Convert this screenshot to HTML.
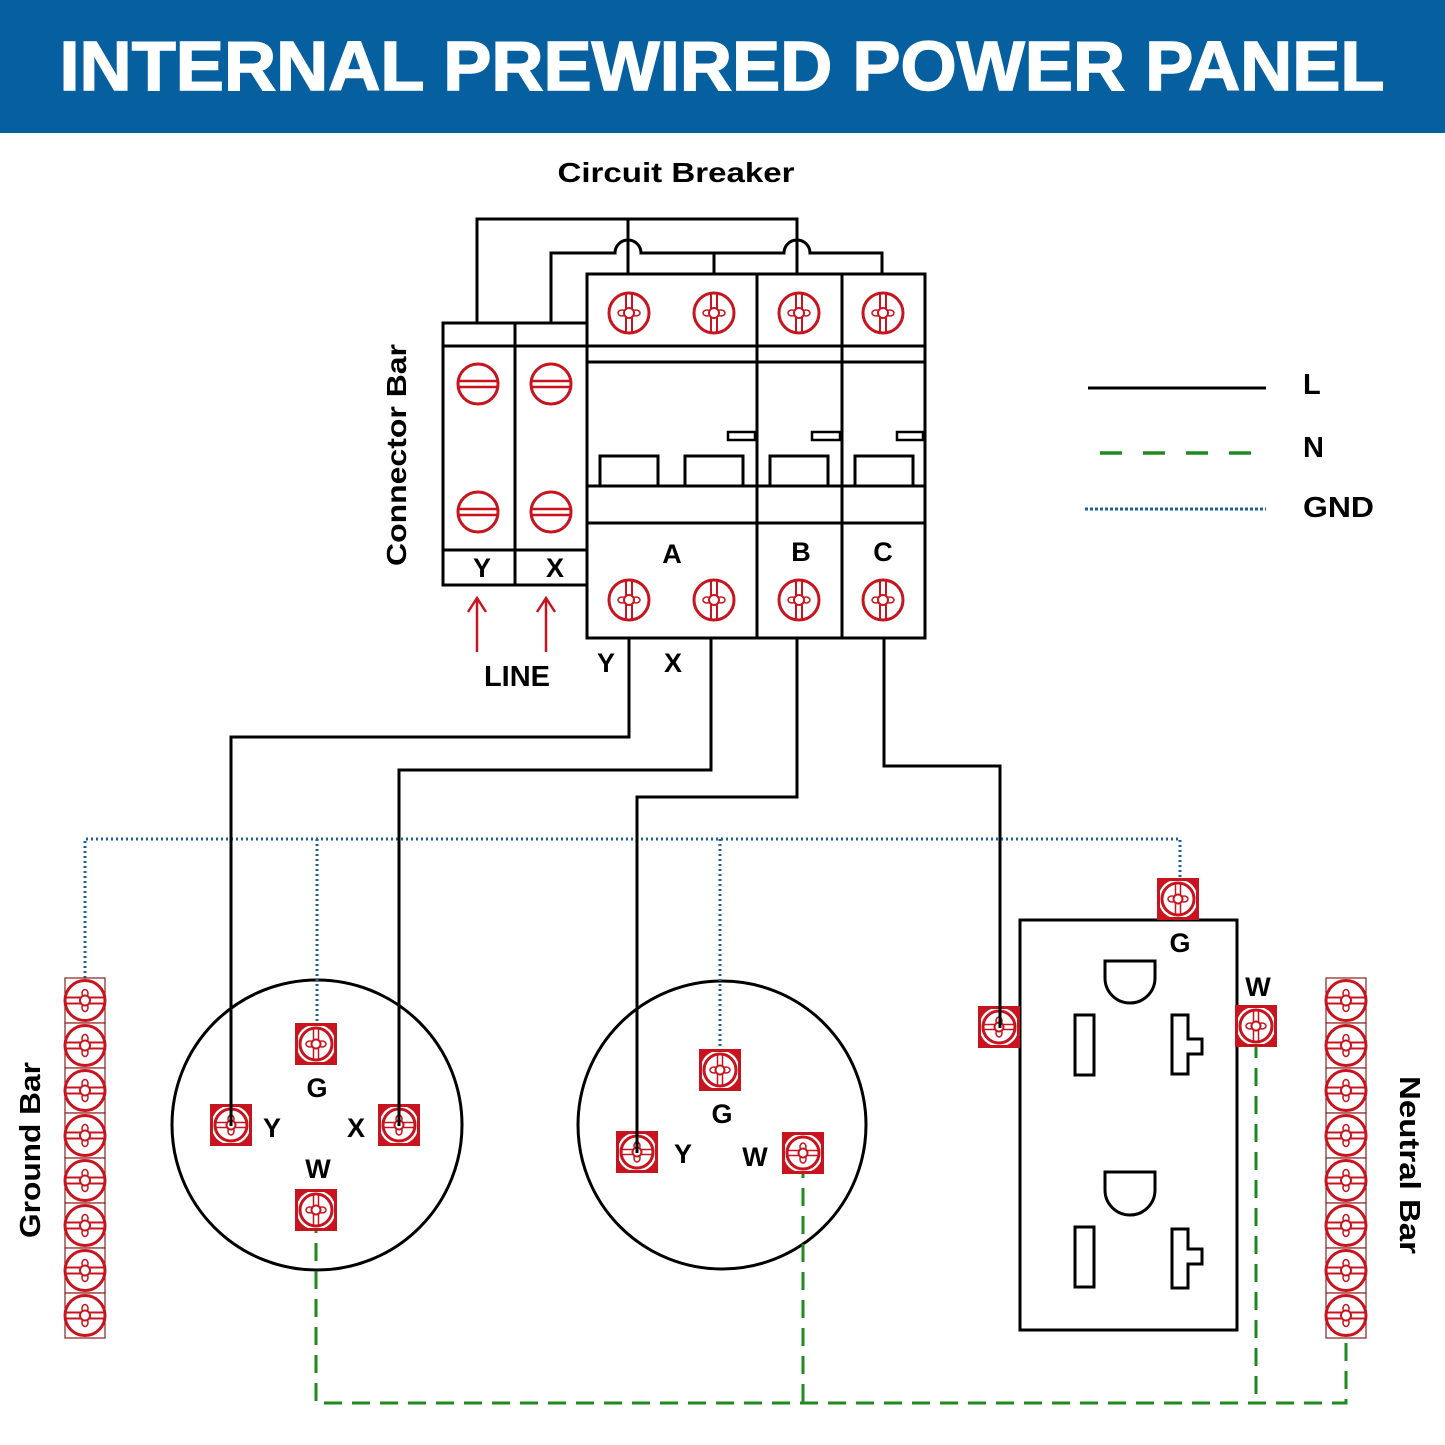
<!DOCTYPE html>
<html><head><meta charset="utf-8"><style>
html,body{margin:0;padding:0;background:#fff;}
svg{display:block;}
text{font-family:"Liberation Sans",Arial,sans-serif;font-weight:bold;}
</style></head><body>
<svg width="1445" height="1445" viewBox="0 0 1445 1445" xmlns="http://www.w3.org/2000/svg">
<defs>
 <g id="s">
  <circle r="20" fill="#fff" stroke="#c8141e" stroke-width="3"/>
  <line x1="-3" y1="-19" x2="-3" y2="19" stroke="#c8141e" stroke-width="2"/>
  <line x1="3" y1="-19" x2="3" y2="19" stroke="#c8141e" stroke-width="2"/>
  <ellipse cx="-7" cy="0" rx="4" ry="3" fill="#fff" stroke="#c8141e" stroke-width="1.5"/>
  <ellipse cx="7" cy="0" rx="4" ry="3" fill="#fff" stroke="#c8141e" stroke-width="1.5"/>
  <circle r="5" fill="#fff" stroke="#c8141e" stroke-width="2"/>
 </g>
 <g id="f">
  <circle r="20" fill="#fff" stroke="#c8141e" stroke-width="3"/>
  <line x1="-19" y1="-3" x2="19" y2="-3" stroke="#c8141e" stroke-width="2.5"/>
  <line x1="-19" y1="3" x2="19" y2="3" stroke="#c8141e" stroke-width="2.5"/>
 </g>
 <g id="t">
  <rect x="-21" y="-21" width="42" height="42" fill="#c8141e"/>
  <rect x="-18" y="-18" width="36" height="36" fill="#fff"/>
  <path d="M-18 -18h10a18 18 0 0 0 -10 10z M18 -18h-10a18 18 0 0 1 10 10z M-18 18h10a18 18 0 0 1 -10 -10z M18 18h-10a18 18 0 0 0 10 -10z" fill="#c8141e"/>
  <circle r="16" fill="#fff" stroke="#c8141e" stroke-width="3"/>
  <line x1="-2.5" y1="-16" x2="-2.5" y2="16" stroke="#c8141e" stroke-width="1.5"/>
  <line x1="2.5" y1="-16" x2="2.5" y2="16" stroke="#c8141e" stroke-width="1.5"/>
  <ellipse cx="-6" cy="0" rx="4" ry="3" fill="#fff" stroke="#c8141e" stroke-width="1.5"/>
  <ellipse cx="6" cy="0" rx="4" ry="3" fill="#fff" stroke="#c8141e" stroke-width="1.5"/>
  <circle r="4.5" fill="#fff" stroke="#c8141e" stroke-width="2"/>
 </g>
 <g id="th"><use href="#t" transform="rotate(90)"/></g>
 <g id="b">
  <rect x="-20" y="-22.5" width="40" height="45" fill="#fff" stroke="#8a2020" stroke-width="1.2"/>
  <use href="#s" transform="rotate(90)"/>
 </g>
</defs>

<rect x="0" y="0" width="1445" height="133" fill="#065f9e"/>
<text x="722" y="90" font-size="70" fill="#fff" text-anchor="middle" textLength="1325" lengthAdjust="spacingAndGlyphs" stroke="#fff" stroke-width="1.5">INTERNAL PREWIRED POWER PANEL</text>

<text x="676" y="182" font-size="28" text-anchor="middle" textLength="237" lengthAdjust="spacingAndGlyphs">Circuit Breaker</text>

<g fill="none" stroke="#000" stroke-width="3">
 <path d="M477 323V219H797V274"/>
 <path d="M628 219V274"/>
 <path d="M551 323V253H615a13 13 0 0 1 26 0H784a13 13 0 0 1 26 0H882V274"/>
 <path d="M714 253V274"/>
</g>

<g fill="none" stroke="#000" stroke-width="3">
 <rect x="443" y="323" width="144" height="262"/>
 <line x1="515" y1="323" x2="515" y2="585"/>
 <line x1="443" y1="346" x2="587" y2="346"/>
 <line x1="443" y1="550" x2="587" y2="550"/>
</g>
<use href="#f" x="478" y="384"/><use href="#f" x="551" y="384"/>
<use href="#f" x="478" y="512"/><use href="#f" x="551" y="512"/>
<text x="482" y="577" font-size="27" text-anchor="middle">Y</text>
<text x="555" y="577" font-size="27" text-anchor="middle">X</text>

<g fill="none" stroke="#000" stroke-width="3">
 <rect x="587" y="274" width="338" height="364"/>
 <line x1="757" y1="274" x2="757" y2="638"/>
 <line x1="842" y1="274" x2="842" y2="638"/>
 <line x1="587" y1="346" x2="925" y2="346"/>
 <line x1="587" y1="362" x2="925" y2="362"/>
 <line x1="587" y1="486" x2="925" y2="486"/>
 <line x1="587" y1="523" x2="925" y2="523"/>
 <path d="M600 486V456H658V486M685 486V456H743V486M770 486V456H828V486M855 486V456H913V486"/>
 <rect x="728" y="432" width="27" height="8" stroke-width="2.5"/>
 <rect x="812" y="432" width="28" height="8" stroke-width="2.5"/>
 <rect x="897" y="432" width="26" height="8" stroke-width="2.5"/>
</g>
<use href="#s" x="629" y="313"/><use href="#s" x="714" y="313"/><use href="#s" x="799" y="313"/><use href="#s" x="883" y="313"/>
<use href="#s" x="629" y="600"/><use href="#s" x="714" y="600"/><use href="#s" x="799" y="600"/><use href="#s" x="883" y="600"/>
<text x="672" y="563" font-size="27" text-anchor="middle">A</text>
<text x="801" y="561" font-size="27" text-anchor="middle">B</text>
<text x="883" y="561" font-size="27" text-anchor="middle">C</text>

<text transform="translate(406,455) rotate(-90)" font-size="28" text-anchor="middle" textLength="222" lengthAdjust="spacingAndGlyphs">Connector Bar</text>

<g stroke="#c8141e" stroke-width="2.5" fill="none">
 <path d="M477 652V598M468 612L477 598L486 612"/>
 <path d="M546 652V598M537 612L546 598L555 612"/>
</g>
<text x="517" y="686" font-size="29" text-anchor="middle">LINE</text>
<text x="606" y="672" font-size="27" text-anchor="middle">Y</text>
<text x="673" y="672" font-size="27" text-anchor="middle">X</text>

<circle cx="317" cy="1125" r="145" fill="none" stroke="#000" stroke-width="3"/>
<circle cx="722" cy="1125" r="144" fill="none" stroke="#000" stroke-width="3"/>
<rect x="1020" y="920" width="217" height="410" fill="none" stroke="#000" stroke-width="3"/>
<g fill="none" stroke="#000" stroke-width="3">
 <path d="M1105 961H1155V978a25 25 0 0 1 -50 0Z"/>
 <rect x="1075" y="1015" width="19" height="60"/>
 <path d="M1172 1015H1188V1039H1202V1054H1188V1074H1172Z"/>
 <path d="M1105 1172H1155V1190a25 25 0 0 1 -50 0Z"/>
 <rect x="1075" y="1227" width="19" height="60"/>
 <path d="M1172 1229H1188V1249H1202V1264H1188V1288H1172Z"/>
</g>

<g stroke="#1d5f9a" stroke-width="3" stroke-dasharray="2 3" fill="none">
 <path d="M85 978V839H1180V880"/>
 <path d="M317 839V1023"/>
 <path d="M720 839V1048"/>
</g>

<g fill="none" stroke="#000" stroke-width="3">
 <path d="M629 638V737H231V1125"/>
 <path d="M711 638V770H399V1125"/>
 <path d="M797 638V797H637V1152"/>
 <path d="M884 638V766H1000V1027"/>
</g>

<g fill="none" stroke="#1f8a1f" stroke-width="3" stroke-dasharray="18 10">
 <path d="M316 1215V1403H1346V1337"/>
 <path d="M803 1160V1403"/>
 <path d="M1256 1040V1403"/>
</g>

<use href="#t" x="316" y="1044"/><use href="#th" x="231" y="1125"/><use href="#th" x="399" y="1125"/><use href="#t" x="316" y="1210"/>
<use href="#t" x="720" y="1070"/><use href="#th" x="637" y="1152"/><use href="#th" x="803" y="1153"/>
<use href="#t" x="1178" y="899"/><use href="#th" x="999" y="1027"/><use href="#t" x="1256" y="1026"/>
<line x1="231" y1="1100" x2="231" y2="1126" stroke="#000" stroke-width="3"/>
<line x1="399" y1="1100" x2="399" y2="1126" stroke="#000" stroke-width="3"/>
<line x1="637" y1="1130" x2="637" y2="1153" stroke="#000" stroke-width="3"/>
<line x1="1000" y1="1005" x2="1000" y2="1028" stroke="#000" stroke-width="3"/>

<g font-size="27" text-anchor="middle">
 <text x="317" y="1097">G</text><text x="272" y="1137">Y</text><text x="356" y="1137">X</text><text x="318" y="1178">W</text>
 <text x="722" y="1123">G</text><text x="683" y="1163">Y</text><text x="755" y="1166">W</text>
 <text x="1180" y="952">G</text><text x="1258" y="996">W</text>
</g>

<g>
 <use href="#b" x="85" y="1000.5"/><use href="#b" x="85" y="1045.5"/><use href="#b" x="85" y="1090.5"/><use href="#b" x="85" y="1135.5"/>
 <use href="#b" x="85" y="1180.5"/><use href="#b" x="85" y="1225.5"/><use href="#b" x="85" y="1270.5"/><use href="#b" x="85" y="1315.5"/>
 <use href="#b" x="1346" y="1000.5"/><use href="#b" x="1346" y="1045.5"/><use href="#b" x="1346" y="1090.5"/><use href="#b" x="1346" y="1135.5"/>
 <use href="#b" x="1346" y="1180.5"/><use href="#b" x="1346" y="1225.5"/><use href="#b" x="1346" y="1270.5"/><use href="#b" x="1346" y="1315.5"/>
</g>
<text transform="translate(40,1150) rotate(-90)" font-size="29" text-anchor="middle" textLength="176" lengthAdjust="spacingAndGlyphs">Ground Bar</text>
<text transform="translate(1400,1165) rotate(90)" font-size="29" text-anchor="middle" textLength="178" lengthAdjust="spacingAndGlyphs">Neutral Bar</text>

<line x1="1088" y1="388" x2="1266" y2="388" stroke="#000" stroke-width="3"/>
<line x1="1087" y1="453" x2="1266" y2="453" stroke="#1f8a1f" stroke-width="3.5" stroke-dasharray="22 21" stroke-dashoffset="-13"/>
<line x1="1085" y1="509" x2="1266" y2="509" stroke="#1d5f9a" stroke-width="3" stroke-dasharray="3 2"/>
<g font-size="29">
 <text x="1303" y="394">L</text><text x="1303" y="457">N</text><text x="1303" y="517" textLength="71" lengthAdjust="spacingAndGlyphs">GND</text>
</g>
</svg>
</body></html>
